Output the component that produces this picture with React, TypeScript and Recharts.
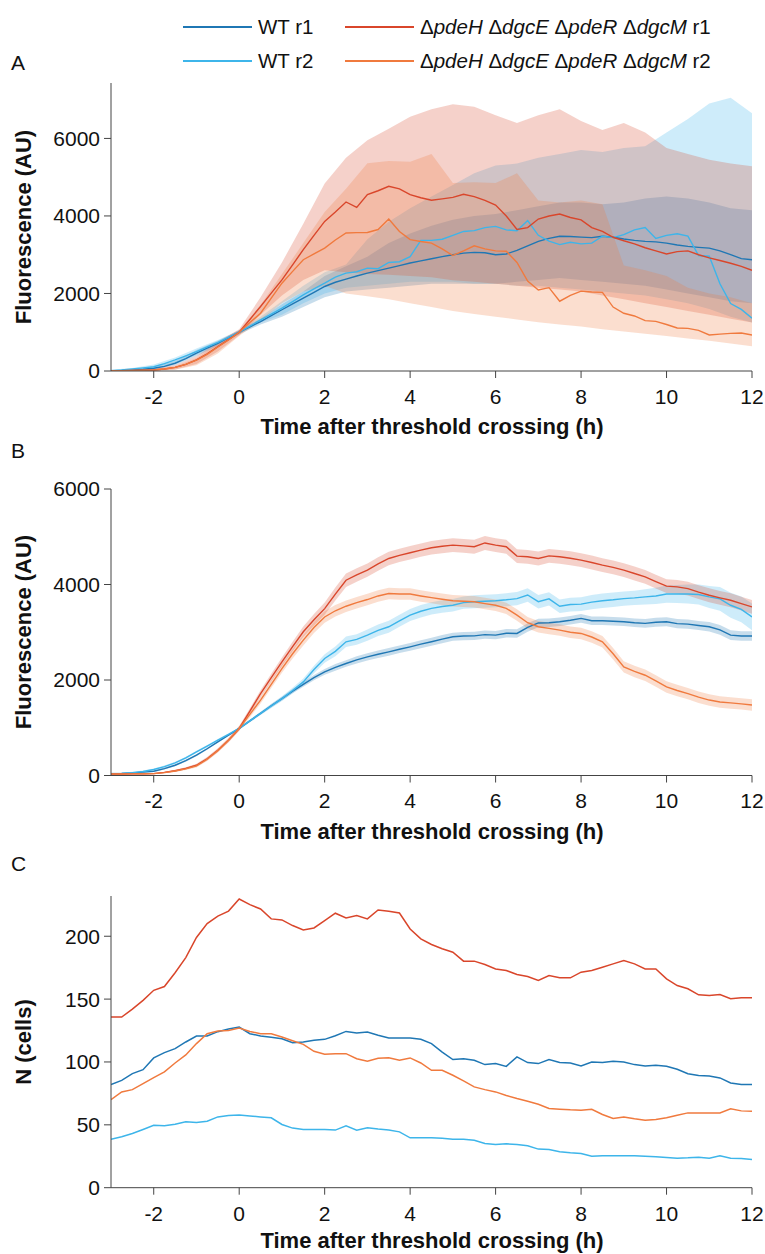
import React from "react";
import { ComposedChart, Line, Area, XAxis, YAxis } from "recharts";

const FONT = '"Liberation Sans", Arial, Helvetica, sans-serif';

// time grid (h) for the lines, and a coarser one for the wide bands of panel A
const hours = [
  -3, -2.75, -2.5, -2.25, -2, -1.75, -1.5, -1.25, -1, -0.75, -0.5, -0.25, 0, 0.25, 0.5, 0.75,
  1, 1.25, 1.5, 1.75, 2, 2.25, 2.5, 2.75, 3, 3.25, 3.5, 3.75, 4, 4.25, 4.5, 4.75,
  5, 5.25, 5.5, 5.75, 6, 6.25, 6.5, 6.75, 7, 7.25, 7.5, 7.75, 8, 8.25, 8.5, 8.75,
  9, 9.25, 9.5, 9.75, 10, 10.25, 10.5, 10.75, 11, 11.25, 11.5, 11.75, 12,
];
const bandHours = [
  -3, -2.5, -2, -1.5, -1, -0.5, 0, 0.5, 1, 1.5, 2, 2.5, 3, 3.5, 4, 4.5,
  5, 5.5, 6, 6.5, 7, 7.5, 8, 8.5, 9, 9.5, 10, 10.5, 11, 11.5, 12,
];
const xTicks = [-2, 0, 2, 4, 6, 8, 10, 12];

const COL_WT1 = "#1f77b4";
const COL_WT2 = "#3db5ea";
const COL_R1 = "#d9462b";
const COL_R2 = "#f07a3e";

// ---- panel A: fluorescence, lines
const aWt1 = [
  10, 15, 30, 45, 70, 120, 200, 320, 460, 590, 715, 860, 1000, 1140, 1275, 1430, 1580, 1730, 1880, 2030,
  2180, 2290, 2370, 2450, 2525, 2590, 2655, 2720, 2785, 2840, 2895, 2950, 3000, 3040, 3060, 3050, 3000, 3020, 3110, 3230,
  3345, 3420, 3475, 3470, 3455, 3440, 3475, 3450, 3405, 3370, 3345, 3330, 3300, 3250, 3215, 3190, 3170, 3100, 3000, 2900,
  2870,
];
const aWt2 = [
  10, 25, 50, 80, 110, 190, 285, 390, 500, 620, 740, 870, 1000, 1160, 1320, 1470, 1620, 1790, 1965, 2120,
  2265, 2420, 2525, 2560, 2655, 2640, 2800, 2820, 2950, 3370, 3370, 3400, 3500, 3600, 3620, 3700, 3730, 3640, 3620, 3880,
  3500, 3350, 3260, 3320, 3280, 3300, 3480, 3440, 3520, 3640, 3700, 3420, 3500, 3540, 3480, 2980, 2960, 2250, 1740, 1590,
  1360,
];
const aR1 = [
  5, 8, 12, 18, 25, 50, 95, 170, 285, 440, 630, 810, 1000, 1330, 1665, 2010, 2350, 2740, 3130, 3500,
  3860, 4100, 4360, 4220, 4550, 4650, 4765, 4700, 4550, 4470, 4405, 4440, 4480, 4560, 4500, 4400, 4280, 4000, 3650, 3700,
  3920, 4000, 4050, 3960, 3900, 3700, 3600, 3450, 3360, 3280, 3180, 3100, 3020, 3080, 3100, 3000, 2920, 2850, 2780, 2700,
  2600,
];
const aR2 = [
  5, 8, 12, 18, 25, 50, 95, 170, 280, 430, 620, 800, 1000, 1250, 1490, 1880, 2265, 2570, 2870, 3020,
  3170, 3380, 3560, 3570, 3575, 3650, 3920, 3600, 3390, 3340, 3300, 3150, 2980, 3100, 3230, 3150, 3100, 3090, 2800, 2320,
  2090, 2150, 1800, 1950, 2060, 2040, 2030, 1650, 1490, 1420, 1300, 1280, 1200, 1110, 1100, 1050, 930, 950, 970, 980,
  930,
];

// ---- panel A: shaded ranges (low / high)
const aWt1Lo = [0, 10, 40, 150, 380, 650, 950, 1200, 1400, 1650, 1900, 2050, 2100, 2150, 2200, 2250, 2250, 2250, 2250, 2300, 2350, 2400, 2350, 2300, 2250, 2200, 2100, 2000, 1900, 1800, 1750];
const aWt1Hi = [20, 50, 110, 260, 540, 780, 1050, 1350, 1720, 2050, 2450, 2700, 2950, 3300, 3550, 3750, 3900, 4000, 4050, 4150, 4250, 4350, 4350, 4300, 4350, 4450, 4500, 4450, 4350, 4200, 4150];
const aWt2Lo = [0, 20, 60, 200, 420, 680, 950, 1250, 1450, 1750, 2000, 2150, 2200, 2250, 2300, 2300, 2300, 2250, 2250, 2200, 2200, 2150, 2100, 2050, 2000, 1950, 1850, 1750, 1600, 1400, 1250];
const aWt2Hi = [30, 80, 170, 350, 580, 800, 1050, 1400, 1800, 2200, 2550, 2750, 3400, 3850, 4200, 4500, 4800, 5100, 5300, 5350, 5500, 5600, 5700, 5650, 5750, 5800, 6150, 6500, 6900, 7050, 6650];
const aR1Lo = [0, 5, 10, 40, 180, 500, 920, 1450, 1950, 2350, 2600, 2550, 2500, 2480, 2450, 2420, 2340, 2300, 2250, 2200, 2150, 2100, 2050, 1950, 1850, 1750, 1650, 1550, 1450, 1350, 1250];
const aR1Hi = [20, 40, 60, 150, 380, 750, 1080, 1900, 2800, 3800, 4840, 5500, 5950, 6250, 6560, 6750, 6880, 6820, 6600, 6400, 6600, 6750, 6450, 6220, 6400, 6150, 5750, 5600, 5450, 5350, 5280];
const aR2Lo = [0, 0, 5, 30, 150, 450, 900, 1300, 1750, 2050, 2200, 2000, 1930, 1850, 1750, 1650, 1550, 1470, 1400, 1330, 1260, 1200, 1150, 1080, 1020, 960, 900, 840, 780, 710, 640];
const aR2Hi = [15, 30, 50, 120, 330, 700, 1050, 1700, 2500, 3300, 4100, 4700, 5360, 5420, 5400, 5600, 4850, 4870, 4850, 5100, 4400, 4350, 4400, 4300, 2720, 2600, 2450, 2150, 2000, 1900, 1750];

// ---- panel B: fluorescence, lines and half-width of the shading
const bWt1 = [
  40, 45, 55, 70, 90, 145, 215, 310, 425, 560, 705, 845, 985, 1145, 1300, 1460, 1610, 1765, 1910, 2050,
  2170, 2265, 2345, 2420, 2485, 2540, 2590, 2645, 2695, 2750, 2800, 2855, 2905, 2920, 2925, 2950, 2940, 2980, 2975, 3100,
  3195, 3200, 3220, 3250, 3290, 3240, 3240, 3230, 3220, 3200, 3185, 3210, 3220, 3180, 3170, 3140, 3115, 3050, 2940, 2920,
  2920,
];
const bWt2 = [
  40, 45, 60, 85, 125, 185, 265, 370, 495, 615, 740, 860, 985, 1145, 1300, 1455, 1610, 1780, 1960, 2220,
  2450, 2600, 2800, 2850, 2940, 3040, 3115, 3240, 3360, 3440, 3500, 3540, 3565, 3620, 3640, 3650, 3660, 3680, 3705, 3780,
  3640, 3700, 3545, 3580, 3590, 3630, 3660, 3680, 3705, 3720, 3740, 3760, 3800, 3800, 3800, 3790, 3740, 3700, 3565, 3480,
  3320,
];
const bR1 = [
  30, 32, 35, 38, 40, 65, 100, 150, 215, 350, 530, 740, 985, 1350, 1715, 2050, 2380, 2700, 3010, 3260,
  3495, 3800, 4090, 4200, 4300, 4430, 4545, 4610, 4665, 4720, 4770, 4800, 4825, 4810, 4790, 4870, 4825, 4790, 4595, 4580,
  4545, 4600, 4580, 4550, 4510, 4460, 4405, 4360, 4300, 4230, 4160, 4060, 3965, 3950, 3915, 3840, 3775, 3720, 3670, 3600,
  3530,
];
const bR2 = [
  30, 32, 35, 38, 40, 60, 95, 140, 200, 340, 520, 740, 985, 1280, 1580, 1910, 2240, 2550, 2835, 3100,
  3320, 3450, 3545, 3620, 3685, 3760, 3810, 3800, 3800, 3760, 3725, 3690, 3660, 3650, 3640, 3600, 3565, 3500, 3360, 3200,
  3115, 3080, 3045, 3000, 2975, 2900, 2800, 2550, 2275, 2180, 2100, 1980, 1855, 1780, 1715, 1640, 1580, 1540, 1520, 1500,
  1475,
];
const bWt1Hw = [
  15, 15, 15, 15, 15, 20, 20, 20, 20, 20, 20, 20, 20, 25, 30, 35, 40, 45, 50, 55,
  60, 70, 70, 75, 75, 80, 80, 80, 80, 85, 85, 85, 85, 85, 85, 85, 85, 90, 90, 90,
  90, 90, 90, 90, 90, 90, 90, 90, 90, 90, 90, 95, 95, 95, 95, 95, 100, 100, 100, 100,
  100,
];
const bWt2Hw = [
  15, 15, 18, 20, 22, 25, 25, 25, 25, 25, 25, 25, 28, 30, 35, 40, 50, 60, 70, 80,
  90, 100, 110, 110, 120, 120, 125, 125, 125, 130, 130, 130, 130, 130, 135, 135, 135, 135, 140, 140,
  140, 140, 140, 145, 145, 150, 150, 150, 150, 150, 160, 170, 180, 190, 200, 210, 230, 250, 260, 270,
  280,
];
const bR1Hw = [
  10, 10, 10, 10, 10, 15, 20, 25, 30, 35, 40, 45, 50, 60, 70, 80, 90, 100, 110, 120,
  130, 135, 140, 140, 140, 140, 140, 140, 140, 140, 140, 145, 145, 145, 145, 145, 145, 145, 145, 145,
  145, 145, 145, 145, 145, 145, 145, 145, 145, 145, 145, 145, 145, 145, 145, 145, 145, 145, 145, 145,
  145,
];
const bR2Hw = [
  10, 10, 10, 10, 10, 15, 20, 25, 30, 35, 40, 45, 50, 60, 70, 80, 90, 100, 110, 115,
  120, 120, 120, 120, 120, 120, 120, 120, 120, 120, 120, 120, 120, 120, 120, 120, 120, 120, 120, 120,
  120, 120, 120, 120, 120, 120, 120, 120, 120, 120, 120, 120, 120, 120, 120, 120, 120, 120, 120, 120,
  120,
];

// ---- panel C: number of cells
const cWt1 = [
  82, 85.4, 90.7, 93.9, 103.2, 107.4, 110.6, 115.9, 120.6, 120.6, 124.1, 126.2, 127.8, 122.5, 120.6, 119.6, 118.5, 115.3, 115.9, 117.2,
  118, 120.9, 124.3, 123, 123.8, 121.2, 119, 119, 119, 118, 114.6, 107.9, 101.9, 102.6, 101.3, 97.9, 98.7, 96.5, 104, 99.5,
  98.7, 101.9, 99.5, 99.2, 96.8, 100, 99.5, 100.5, 100, 97.9, 96.8, 97.4, 96.6, 94.2, 90.7, 89.2, 88.9, 87.3, 83.3, 82,
  82,
];
const cWt2 = [
  38.6, 40.5, 43.1, 46.3, 49.7, 49.2, 50.5, 52.4, 51.9, 52.9, 56.3, 57.4, 57.9, 57.1, 56.3, 55.6, 50.3, 47.4, 46.3, 46.3,
  46.3, 45.8, 49.2, 45.8, 47.6, 46.6, 45.8, 44.4, 39.7, 39.7, 39.7, 39.4, 38.6, 38.6, 37.8, 35.2, 34.4, 34.9, 34.4, 33.3,
  30.7, 30.4, 28.6, 27.8, 27.2, 25.1, 25.4, 25.4, 25.4, 25.4, 25.1, 24.6, 24.1, 23.5, 23.8, 24.3, 23.5, 25.4, 23.5, 23.3,
  22.5,
];
const cR1 = [
  135.7, 135.7, 142, 149, 157, 160, 171, 183, 199, 210, 216, 220, 229.6, 225.1, 221.7, 213.8, 213, 208.5, 205, 206.6,
  212.4, 218.3, 214.6, 216.4, 213.8, 220.9, 219.8, 218.5, 205.8, 197.9, 193.4, 190, 187.3, 180.2, 180.2, 177.5, 174, 172.8, 169.6, 168,
  164.8, 168.8, 166.9, 166.9, 171.4, 172.8, 175.4, 178, 180.7, 178, 174, 174, 166.1, 160.8, 158.2, 153.4, 152.9, 153.7, 150.3, 151,
  151,
];
const cR2 = [
  70.1, 76.2, 78, 82.8, 87.6, 92.1, 99.2, 105.6, 114.6, 122.5, 124.6, 125.1, 127, 124.3, 122.5, 122.5, 119.8, 116.9, 114, 108.5,
  106.1, 106.6, 106.6, 102.6, 100.5, 102.9, 103.4, 101.3, 103.2, 99.2, 93.4, 93.4, 89.4, 84.9, 80.2, 78, 76.2, 73.3, 70.9, 68.8,
  66.4, 63, 62.4, 61.9, 61.6, 62.4, 58.2, 55, 56.3, 54.8, 53.7, 54.2, 55.6, 57.7, 59.5, 59.5, 59.5, 59.5, 62.7, 61.1,
  60.8,
];

const series = [
  { key: "wt1", color: COL_WT1 },
  { key: "wt2", color: COL_WT2 },
  { key: "r1", color: COL_R1 },
  { key: "r2", color: COL_R2 },
];

const rowsA = hours.map((t, i) => ({ t, wt1: aWt1[i], wt2: aWt2[i], r1: aR1[i], r2: aR2[i] }));
const bandsA = bandHours.map((t, i) => ({
  t,
  wt1: [aWt1Lo[i], aWt1Hi[i]],
  wt2: [aWt2Lo[i], aWt2Hi[i]],
  r1: [aR1Lo[i], aR1Hi[i]],
  r2: [aR2Lo[i], aR2Hi[i]],
}));
const rowsB = hours.map((t, i) => ({ t, wt1: bWt1[i], wt2: bWt2[i], r1: bR1[i], r2: bR2[i] }));
const bandsB = hours.map((t, i) => ({
  t,
  wt1: [bWt1[i] - bWt1Hw[i], bWt1[i] + bWt1Hw[i]],
  wt2: [bWt2[i] - bWt2Hw[i], bWt2[i] + bWt2Hw[i]],
  r1: [bR1[i] - bR1Hw[i], bR1[i] + bR1Hw[i]],
  r2: [bR2[i] - bR2Hw[i], bR2[i] + bR2Hw[i]],
}));
const rowsC = hours.map((t, i) => ({ t, wt1: cWt1[i], wt2: cWt2[i], r1: cR1[i], r2: cR2[i] }));

const AXIS = "#444";
const tickStyle = { fontSize: 21, fill: "#111", fontFamily: FONT };

function frame(yDomain: number[], yTicks: number[]) {
  return [
    <XAxis
      key="xb"
      type="number"
      dataKey="t"
      domain={[-3, 12]}
      ticks={xTicks}
      interval={0}
      allowDataOverflow
      height={40}
      tickSize={7}
      tickMargin={11}
      stroke={AXIS}
      tick={tickStyle}
    />,
    <YAxis
      key="yl"
      type="number"
      domain={yDomain}
      ticks={yTicks}
      interval={0}
      allowDataOverflow
      width={60}
      tickSize={7}
      tickMargin={4}
      stroke={AXIS}
      tick={tickStyle}
    />,
    <XAxis key="xt" xAxisId="top" orientation="top" type="number" domain={[-3, 12]} height={0} tick={false} tickLine={false} stroke={AXIS} />,
    <YAxis key="yr" yAxisId="right" orientation="right" type="number" domain={[0, 1]} width={0} tick={false} tickLine={false} stroke={AXIS} />,
  ];
}

function traces(rows: any[], bands: any[] | null, width: number, bandOpacity: number) {
  const out: React.ReactNode[] = [];
  series.forEach((s) => {
    if (bands) {
      out.push(
        <Area
          key={s.key + "-band"}
          data={bands}
          dataKey={s.key}
          type="linear"
          stroke="none"
          fill={s.color}
          fillOpacity={bandOpacity}
          isAnimationActive={false}
          activeDot={false}
        />
      );
    }
    out.push(
      <Line
        key={s.key + "-line"}
        data={rows}
        dataKey={s.key}
        type="linear"
        stroke={s.color}
        strokeWidth={width}
        dot={false}
        activeDot={false}
        isAnimationActive={false}
      />
    );
  });
  return out;
}

const absText = (style: React.CSSProperties): React.CSSProperties => ({
  position: "absolute",
  whiteSpace: "nowrap",
  lineHeight: 1,
  color: "#111",
  ...style,
});

function XTitle({ y }: { y: number }) {
  return (
    <div style={absText({ left: 432, top: y, transform: "translate(-50%, -50%)", fontSize: 22, fontWeight: "bold" })}>
      Time after threshold crossing (h)
    </div>
  );
}

function YTitle({ y, text }: { y: number; text: string }) {
  return (
    <div style={absText({ left: 24, top: y, transform: "translate(-50%, -50%) rotate(-90deg)", fontSize: 22, fontWeight: "bold" })}>
      {text}
    </div>
  );
}

function Letter({ y, text }: { y: number; text: string }) {
  return <div style={absText({ left: 11, top: y, transform: "translateY(-50%)", fontSize: 21 })}>{text}</div>;
}

function Mutant({ rep }: { rep: string }) {
  return (
    <>
      Δ<i>pdeH</i> Δ<i>dgcE</i> Δ<i>pdeR</i> Δ<i>dgcM</i> {rep}
    </>
  );
}

function LegendItem({ x, y, color, children }: { x: number; y: number; color: string; children: React.ReactNode }) {
  return (
    <>
      <div style={{ position: "absolute", left: x, top: y - 1, width: 69, height: 2, background: color }} />
      <div style={absText({ left: x + 75, top: y, transform: "translateY(-50%)", fontSize: 20.5 })}>{children}</div>
    </>
  );
}

export default function App() {
  return (
    <div
      style={{
        position: "absolute",
        left: 0,
        top: 0,
        width: 765,
        height: 1254,
        background: "#fff",
        fontFamily: FONT,
        overflow: "hidden",
      }}
    >
      <LegendItem x={183} y={27} color={COL_WT1}>WT r1</LegendItem>
      <LegendItem x={183} y={61} color={COL_WT2}>WT r2</LegendItem>
      <LegendItem x={345} y={27} color={COL_R1}>
        <Mutant rep="r1" />
      </LegendItem>
      <LegendItem x={345} y={61} color={COL_R2}>
        <Mutant rep="r2" />
      </LegendItem>

      <Letter y={62} text="A" />
      <Letter y={450} text="B" />
      <Letter y={863} text="C" />

      <div style={{ position: "absolute", left: 0, top: 0 }}>
        <ComposedChart width={765} height={440} margin={{ top: 83, right: 13, bottom: 29, left: 51 }}>
          {frame([0, 7430], [0, 2000, 4000, 6000])}
          {traces(rowsA, bandsA, 1.4, 0.25)}
        </ComposedChart>
      </div>
      <div style={{ position: "absolute", left: 0, top: 440 }}>
        <ComposedChart width={765} height={400} margin={{ top: 49, right: 13, bottom: 24.5, left: 51 }}>
          {frame([0, 6000], [0, 2000, 4000, 6000])}
          {traces(rowsB, bandsB, 1.4, 0.25)}
        </ComposedChart>
      </div>
      <div style={{ position: "absolute", left: 0, top: 850 }}>
        <ComposedChart width={765} height={404} margin={{ top: 46, right: 13, bottom: 26.3, left: 51 }}>
          {frame([0, 232], [0, 50, 100, 150, 200])}
          {traces(rowsC, null, 1.5, 0)}
        </ComposedChart>
      </div>

      <XTitle y={427} />
      <XTitle y={831.5} />
      <XTitle y={1241} />
      <YTitle y={227} text="Fluorescence (AU)" />
      <YTitle y={632} text="Fluorescence (AU)" />
      <YTitle y={1042} text="N (cells)" />
    </div>
  );
}
